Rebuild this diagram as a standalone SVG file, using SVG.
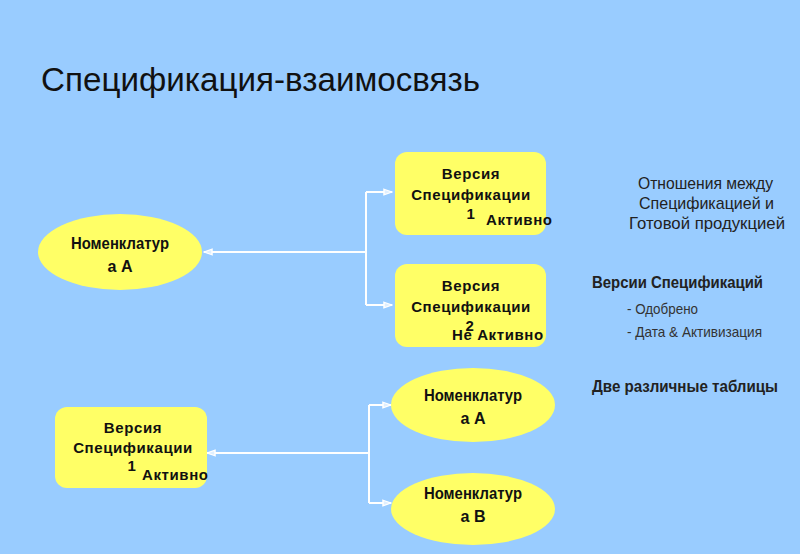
<svg xmlns="http://www.w3.org/2000/svg" width="800" height="554" viewBox="0 0 800 554">
<defs>
<style>
.node{fill:#FFFF66;stroke:none}
.t{font-family:"Liberation Sans",Arial,sans-serif;font-weight:bold;font-size:15px;letter-spacing:0.6px;fill:#111;text-anchor:middle}
.n{font-family:"Liberation Sans",Arial,sans-serif;font-weight:bold;font-size:17px;fill:#111;text-anchor:middle}
.r{font-family:"Liberation Sans",Arial,sans-serif;font-size:17px;fill:#222}
.rb{font-family:"Liberation Sans",Arial,sans-serif;font-size:17px;font-weight:bold;fill:#222}
.rs{font-family:"Liberation Sans",Arial,sans-serif;font-size:14.5px;fill:#333}
.c{fill:none;stroke:#fff;stroke-width:2}
</style>
<marker id="ah" viewBox="0 0 10 10" refX="9" refY="5" markerWidth="10" markerHeight="8" orient="auto-start-reverse" markerUnits="userSpaceOnUse" preserveAspectRatio="none">
<path d="M1,1.5 L9,5 L1,8.5 Z" fill="#dfefff" stroke="#fff" stroke-width="1.5"/>
</marker>
</defs>
<rect width="800" height="554" fill="#99CCFF"/>
<text x="41" y="91" style="font-family:'Liberation Sans',Arial,sans-serif;font-size:33px;fill:#111" textLength="439" lengthAdjust="spacingAndGlyphs">Спецификация-взаимосвязь</text>

<g id="connectors">
<path class="c" d="M366,252 H204" marker-end="url(#ah)"/>
<path class="c" d="M366,192 V305"/>
<path class="c" d="M366,192 H392" marker-end="url(#ah)"/>
<path class="c" d="M366,305 H392" marker-end="url(#ah)"/>
<path class="c" d="M370,453 H207" marker-end="url(#ah)"/>
<path class="c" d="M369,405 V503"/>
<path class="c" d="M369,405 H391" marker-end="url(#ah)"/>
<path class="c" d="M369,503 H391" marker-end="url(#ah)"/>
</g>

<g id="nom-a-top">
<ellipse class="node" cx="120" cy="252" rx="82" ry="38"/>
<text class="n" x="120" y="249" textLength="98" lengthAdjust="spacingAndGlyphs">Номенклатур</text>
<text class="n" x="120" y="272" textLength="25" lengthAdjust="spacingAndGlyphs">а А</text>
</g>
<g id="ver-1">
<rect class="node" x="395" y="152" width="151" height="83" rx="12"/>
<text class="t" x="471" y="179">Версия</text>
<text class="t" x="471" y="200">Спецификации</text>
<text class="t" x="471" y="219">1</text>
<text class="t" x="486" y="225" style="text-anchor:start">Активно</text>
</g>
<g id="ver-2">
<rect class="node" x="395" y="264" width="151" height="83" rx="12"/>
<text class="t" x="471" y="291">Версия</text>
<text class="t" x="471" y="312">Спецификации</text>
<text class="t" x="470" y="331">2</text>
<text class="t" x="452" y="340" style="text-anchor:start">Не Активно</text>
</g>
<g id="ver-1-bottom">
<rect class="node" x="55" y="407" width="152" height="81" rx="12"/>
<text class="t" x="133" y="433">Версия</text>
<text class="t" x="133" y="453">Спецификации</text>
<text class="t" x="132" y="471">1</text>
<text class="t" x="142" y="480" style="text-anchor:start">Активно</text>
</g>
<g id="nom-a">
<ellipse class="node" cx="473" cy="405" rx="82" ry="37"/>
<text class="n" x="473" y="401" textLength="98" lengthAdjust="spacingAndGlyphs">Номенклатур</text>
<text class="n" x="473" y="424" textLength="25" lengthAdjust="spacingAndGlyphs">а А</text>
</g>
<g id="nom-b">
<ellipse class="node" cx="473" cy="509" rx="82" ry="36"/>
<text class="n" x="473" y="499" textLength="98" lengthAdjust="spacingAndGlyphs">Номенклатур</text>
<text class="n" x="473" y="522" textLength="25" lengthAdjust="spacingAndGlyphs">а В</text>
</g>

<g id="notes">
<text class="r" x="638" y="189" textLength="135" lengthAdjust="spacingAndGlyphs">Отношения между</text>
<text class="r" x="639" y="209" textLength="135" lengthAdjust="spacingAndGlyphs">Спецификацией и</text>
<text class="r" x="629" y="229" textLength="156" lengthAdjust="spacingAndGlyphs">Готовой продукцией</text>
<text class="rb" x="592" y="288" textLength="171" lengthAdjust="spacingAndGlyphs">Версии Спецификаций</text>
<text class="rs" x="627" y="314" textLength="71" lengthAdjust="spacingAndGlyphs">- Одобрено</text>
<text class="rs" x="627" y="337" textLength="135" lengthAdjust="spacingAndGlyphs">- Дата &amp; Активизация</text>
<text class="rb" x="592" y="392" textLength="186" lengthAdjust="spacingAndGlyphs">Две различные таблицы</text>
</g>
</svg>
